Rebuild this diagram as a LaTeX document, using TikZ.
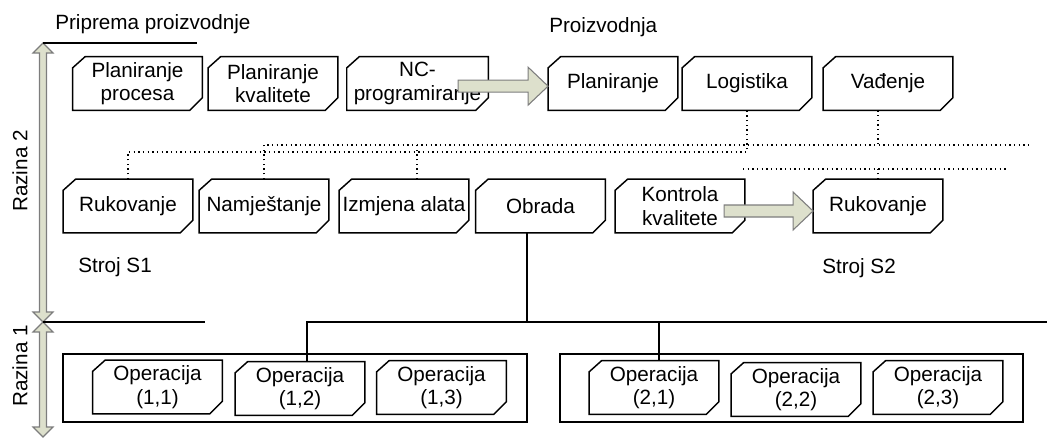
\documentclass[tikz,border=0pt]{standalone}
\usepackage{fontspec}
\setmainfont{Liberation Sans}

\definecolor{strelicaboja}{RGB}{221,224,204}
\definecolor{rubboja}{RGB}{125,125,125}

\begin{document}
\begin{tikzpicture}[x=0.75pt,y=-0.75pt,font=\fontsize{15.5}{17.5}\selectfont]
        % Define styles
        \tikzset{
            korak/.style={minimum width=97pt, minimum height=40pt, inner sep=1pt, align=center,
                append after command={\pgfextra{
                    \draw[line width=1.1pt, line join=miter]
                        ([yshift=-8.5pt]\tikzlastnode.north west) -- ([xshift=9.5pt]\tikzlastnode.north west)
                        -- (\tikzlastnode.north east) -- ([yshift=9.5pt]\tikzlastnode.south east)
                        -- ([xshift=-9.5pt]\tikzlastnode.south east) -- (\tikzlastnode.south west) -- cycle;
                }}},
            grupa/.style={rectangle, draw, line width=1.1pt, minimum height=51pt, inner sep=0pt},
            veza/.style={line width=1pt, dash pattern=on 1pt off 2.5pt},
            linija/.style={line width=1.2pt},
            blokstrelica/.style={fill=strelicaboja, draw=rubboja, line width=0.8pt, line join=miter},
            natpis/.style={anchor=base west, inner sep=0pt}
        }
        \useasboundingbox (0,0) rectangle (1047,439);

        % Nodes
        \node[korak] (plan_procesa) at (137.5,83.5) {Planiranje\\procesa};
        \node[korak] (plan_kvalitete) at (273,83.5) {Planiranje\\kvalitete};
        \node[korak, minimum width=105.75pt] (nc_prog) at (417.5,83.5) {NC-\\programiranje};
        \node[korak] (planiranje) at (613,83.5) {Planiranje};
        \node[korak] (logistika) at (747,83.5) {Logistika};
        \node[korak] (vadjenje) at (888,83.5) {Vađenje};

        \node[korak] (rukovanje1) at (128,206) {Rukovanje};
        \node[korak] (namjestanje) at (264,206) {Namještanje};
        \node[korak] (izmjena) at (404,206) {Izmjena alata};
        \node[korak] (obrada) at (540.5,206) {Obrada};
        \node[korak] (kontrola) at (680,206) {Kontrola\\kvalitete};
        \node[korak] (rukovanje2) at (878,206) {Rukovanje};

        \node[grupa, minimum width=348pt] (grupa1) at (295,388) {};
        \node[grupa, minimum width=347.25pt] (grupa2) at (791.5,388) {};
        \node[korak] (op11) at (157.5,387) {Operacija\\(1,1)};
        \node[korak] (op12) at (300,388.5) {Operacija\\(1,2)};
        \node[korak] (op13) at (441.5,387.5) {Operacija\\(1,3)};
        \node[korak] (op21) at (654,387.5) {Operacija\\(2,1)};
        \node[korak] (op22) at (796,389.5) {Operacija\\(2,2)};
        \node[korak] (op23) at (938,387.5) {Operacija\\(2,3)};

        % Labels
        \node[natpis] (priprema) at (55,30) {Priprema proizvodnje};
        \node[natpis] (proizvodnja) at (549,32) {Proizvodnja};
        \node[natpis] (stroj1) at (78,272) {Stroj S1};
        \node[natpis] (stroj2) at (822,273) {Stroj S2};
        \node[rotate=90, inner sep=0pt] (razina2) at (20,171) {Razina 2};
        \node[rotate=90, inner sep=0pt] (razina1) at (20,366) {Razina 1};

        % Coordinates
        \coordinate (osVrh) at (43,43);
        \coordinate (osSredina) at (43,322);
        \coordinate (crtaVrh) at (197,43);
        \coordinate (crtaSredina) at (205,322);
        \coordinate (sabirnicaA) at (0,152);
        \coordinate (sabirnicaB) at (0,145);
        \coordinate (krajB) at (1032,145);
        \coordinate (pocetakC) at (743,169);
        \coordinate (krajC) at (1009,169);
        \coordinate (granaKraj) at (1047,322);

        % Razine
        \foreach \gore/\dolje in {43/322,322/437}
            \draw[blokstrelica] (43,\gore) -- (53,\gore+10) -- (46.5,\gore+10) -- (46.5,\dolje-10) -- (53,\dolje-10)
                -- (43,\dolje) -- (33,\dolje-10) -- (39.5,\dolje-10) -- (39.5,\gore+10) -- (33,\gore+10) -- cycle;
        \draw[line width=1pt] (osVrh) -- (crtaVrh);
        \draw[line width=1pt] (osSredina) -- (crtaSredina);

        % Dotted links
        \draw[veza] (rukovanje1.north) |- (sabirnicaA -| logistika.south) -- (logistika.south);
        \draw[veza] (namjestanje.north) -- (namjestanje.north |- sabirnicaB) -- (krajB);
        \draw[veza] ([xshift=9.75pt]izmjena.north) -- ++(0,-34);
        \draw[veza] (vadjenje.south -| rukovanje2.north) -- (rukovanje2.north |- sabirnicaB);
        \draw[veza] (pocetakC) -- (krajC);
        \draw[veza] (rukovanje2.north) -- (rukovanje2.north |- pocetakC);

        % Arrows
        \draw[blokstrelica] ([yshift=-2pt]planiranje.west) -- ++(-20,-19) -- ++(0,13) -- ++(-70,0)
            -- ++(0,12) -- ++(70,0) -- ++(0,13) -- cycle;
        \draw[blokstrelica] ([yshift=-3.75pt]rukovanje2.west) -- ++(-20,-19) -- ++(0,13) -- ++(-69,0)
            -- ++(0,12) -- ++(69,0) -- ++(0,13) -- cycle;

        % Tree
        \draw[linija] ([xshift=-10pt]obrada.south) -- ++(0,89.5);
        \draw[linija] ([xshift=5.25pt]op12.north) |- (granaKraj);
        \draw[linija] ([xshift=3.75pt]op21.north) -- ++(0,-39.5);
    \end{tikzpicture}
\end{document}
